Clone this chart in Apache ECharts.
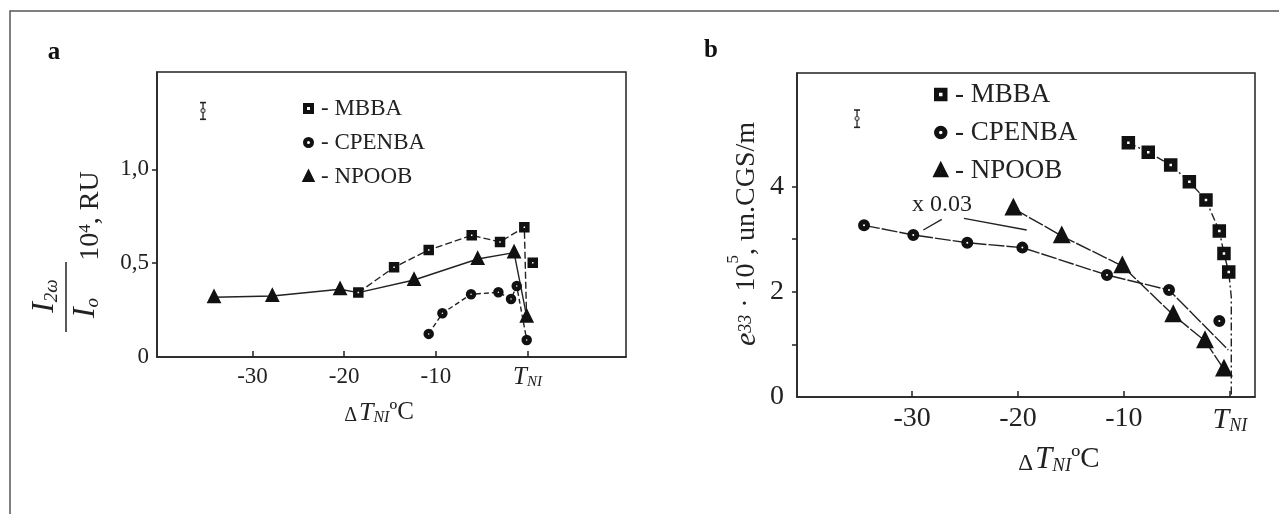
<!DOCTYPE html>
<html>
<head>
<meta charset="utf-8">
<script src="https://cdn.jsdelivr.net/npm/echarts@6/dist/echarts.min.js"></script>
<style>
  html, body { margin: 0; background: #fff; }
  #chart { width: 1279px; height: 514px; }
</style>
</head>
<body>
<div id="chart"></div>
<script>
// ---- panel a : I2w/Io *10^4 (RU) vs dT_NI ----
const aMBBA = [[-18.46, 0.343], [-14.56, 0.478], [-10.78, 0.570], [-6.09, 0.648], [-3.0, 0.613], [-0.35, 0.691], [0.57, 0.502]];
const aMBBADrop = [[-0.12, 0.24]];
const aCPENBA = [[-10.78, 0.123], [-9.29, 0.233], [-6.16, 0.334], [-3.18, 0.345], [-1.8, 0.309], [-1.18, 0.378], [-0.09, 0.091]];
const aNPOOB = [[-34.2, 0.318], [-27.84, 0.325], [-20.45, 0.361], [-12.38, 0.41], [-5.44, 0.522], [-1.47, 0.556], [-0.09, 0.215]];
const aErr = [-35.4, 1.266, 1.312, 1.355];   // x, low, mid, high

// ---- panel b : e33 *10^5 (un.CGS/m) vs dT_NI ----
const bMBBA = [[-9.58, 4.835], [-7.70, 4.652], [-5.58, 4.41], [-3.82, 4.093], [-2.25, 3.745], [-0.99, 3.156], [-0.55, 2.73], [-0.1, 2.376]];
const bMBBATail = [[0.14, 1.9], [0.14, 0]];
const bCPENBA = [[-34.54, 3.264], [-29.89, 3.08], [-24.79, 2.933], [-19.59, 2.84], [-11.6, 2.319], [-5.74, 2.034], [-0.99, 1.445]];
const bCPENBATail = [[-0.14, 0.894]];
const bNPOOB = [[-20.44, 3.587], [-15.87, 3.06], [-10.15, 2.49], [-5.34, 1.559], [-2.34, 1.065], [-0.55, 0.526]];
const bErr = [-35.2, 5.127, 5.295, 5.456];
const bLeader1 = [[-28.94, 3.175], [-27.2, 3.378]];
const bLeader2 = [[-25.1, 3.397], [-19.18, 3.175]];

const xTicks = [-30, -20, -10, 0];
const aYTicks = [0.5, 1.0];
const aYLabels = [0, 0.5, 1.0];
const bYTicks = [1, 2, 3, 4];
const bYLabels = [0, 2, 4];

const FONT = 'Liberation Serif';
const INK = '#222';

var chart = echarts.init(document.getElementById('chart'));

function path(name, g, data, dash) {
  return {
    type: 'line', name: name, xAxisIndex: g, yAxisIndex: g, data: data,
    symbol: 'none', silent: true, z: 2,
    lineStyle: { color: INK, width: 1.4, type: dash }
  };
}
function pts(name, g, data, symbol, size, bw) {
  return {
    type: 'scatter', name: name, xAxisIndex: g, yAxisIndex: g, data: data,
    symbol: symbol, symbolSize: size, z: 3,
    itemStyle: { color: '#fff', borderColor: '#111', borderWidth: bw, opacity: 1 }
  };
}
function errBar(g, e) {
  return [{
    type: 'line', xAxisIndex: g, yAxisIndex: g, data: [[e[0], e[1]], [e[0], e[3]]],
    symbol: 'rect', symbolSize: [6, 1.6], showSymbol: true, z: 3,
    itemStyle: { color: INK }, lineStyle: { color: INK, width: 1.3 }
  }, {
    type: 'scatter', xAxisIndex: g, yAxisIndex: g, data: [[e[0], e[2]]],
    symbol: 'circle', symbolSize: 4, z: 4,
    itemStyle: { color: '#fff', borderColor: INK, borderWidth: 1.2 }
  }];
}

function xAxisOf(g, min, max, fs) {
  return {
    gridIndex: g, type: 'value', min: min, max: max,
    axisLine: { show: true, onZero: false, lineStyle: { color: INK, width: 1.5 } },
    axisTick: { show: true, inside: true, length: 6, customValues: xTicks, lineStyle: { color: INK, width: 1.5 } },
    splitLine: { show: false },
    axisLabel: {
      customValues: xTicks, margin: 8, color: INK, fontFamily: FONT, fontSize: fs,
      formatter: v => v === 0 ? '{t|T}{n|NI}' : String(v),
      rich: {
        t: { fontFamily: FONT, fontStyle: 'italic', color: INK, verticalAlign: 'top', fontSize: fs + 2, lineHeight: fs + 2, padding: [0, 0, 5, 0] },
        n: { fontFamily: FONT, fontStyle: 'italic', color: INK, verticalAlign: 'bottom', fontSize: Math.round(fs * 0.65), lineHeight: Math.round(fs * 0.65) }
      }
    }
  };
}
function yAxisOf(g, max, ticks, labels, fs, margin, fmt) {
  return {
    gridIndex: g, type: 'value', min: 0, max: max,
    axisLine: { show: true, onZero: false, lineStyle: { color: INK, width: 1.5 } },
    axisTick: { show: true, inside: false, length: 5, customValues: ticks, lineStyle: { color: INK, width: 1.5 } },
    splitLine: { show: false },
    axisLabel: { customValues: labels, margin: margin, color: INK, fontFamily: FONT, fontSize: fs, formatter: fmt }
  };
}
function legendOf(left, top, fs, iw, bw, gap, pad) {
  return {
    left: left, top: top, orient: 'vertical', selectedMode: false,
    itemWidth: iw, itemHeight: iw, itemGap: gap,
    data: [{ name: 'MBBA', icon: 'rect' }, { name: 'CPENBA', icon: 'circle' }, { name: 'NPOOB', icon: 'triangle' }],
    formatter: '- {name}',
    itemStyle: { color: '#fff', borderColor: '#111', borderWidth: bw },
    textStyle: { fontFamily: FONT, fontSize: fs, lineHeight: fs, color: INK, padding: [0, 0, 0, pad] }
  };
}

// dT_NI degC axis name
function tnTitle(x, y, fs) {
  const ds = Math.round(fs * 0.75);
  return {
    type: 'text', x: x, y: y, z: 10,
    style: {
      text: '{d|Δ}{t|T}{n|NI}{c|ºC}', align: 'center', verticalAlign: 'middle', fill: INK,
      rich: {
        d: { fontFamily: FONT, fontSize: ds, lineHeight: ds, padding: [fs - ds, 2, 0, 0], verticalAlign: 'top', fill: INK },
        t: { fontFamily: FONT, fontStyle: 'italic', fontSize: fs, lineHeight: fs, padding: [0, 0, 5, 0], verticalAlign: 'top', fill: INK },
        n: { fontFamily: FONT, fontStyle: 'italic', fontSize: Math.round(fs * 0.62), lineHeight: Math.round(fs * 0.62), verticalAlign: 'bottom', fill: INK },
        c: { fontFamily: FONT, fontSize: Math.round(fs * 0.95), lineHeight: fs, verticalAlign: 'top', fill: INK }
      }
    }
  };
}
const subRich = (fs, ss) => ({
  i: { fontFamily: FONT, fontStyle: 'italic', fontSize: fs, lineHeight: fs, padding: [0, 0, 6, 0], verticalAlign: 'top', fill: INK },
  s: { fontFamily: FONT, fontStyle: 'italic', fontSize: ss, lineHeight: ss, verticalAlign: 'bottom', fill: INK }
});

chart.setOption({
  animation: false,
  backgroundColor: '#fff',
  grid: [
    { left: 157, top: 72, width: 469, height: 285, show: true, borderColor: INK, borderWidth: 1.5, backgroundColor: 'transparent' },
    { left: 797, top: 73, width: 458, height: 324, show: true, borderColor: INK, borderWidth: 1.5, backgroundColor: 'transparent' }
  ],
  xAxis: [xAxisOf(0, -40.42, 10.74, 23), xAxisOf(1, -40.87, 2.38, 28)],
  yAxis: [
    yAxisOf(0, 1.518, aYTicks, aYLabels, 23, 8, v => v === 0 ? '0' : v.toFixed(1).replace('.', ',')),
    yAxisOf(1, 6.16, bYTicks, bYLabels, 28, 13, v => String(v))
  ],
  legend: [legendOf(298, 92, 23, 7, 4, 11, 4), legendOf(929, 76, 27, 8.5, 5, 11, 5)],
  series: [
    // panel a
    pts('MBBA', 0, aMBBA, 'rect', 6, 4.5),
    pts('CPENBA', 0, aCPENBA, 'circle', 6, 4.5),
    pts('NPOOB', 0, aNPOOB, 'triangle', 7.5, 4.5),
    path('MBBA', 0, aMBBA.slice(0, 6).concat(aMBBADrop), [7, 3]),
    path('CPENBA', 0, aCPENBA, [5, 3]),
    path('NPOOB', 0, aNPOOB.slice(0, 3).concat([aMBBA[0]], aNPOOB.slice(3)), 'solid'),
    ...errBar(0, aErr),
    // panel b
    pts('MBBA', 1, bMBBA, 'rect', 8, 5.5),
    pts('CPENBA', 1, bCPENBA, 'circle', 7, 5),
    pts('NPOOB', 1, bNPOOB, 'triangle', 9, 5.5),
    path('MBBA', 1, bMBBA.concat(bMBBATail), [8, 3, 2, 3]),
    path('CPENBA', 1, bCPENBA.slice(0, 6).concat(bCPENBATail), [16, 2]),
    path('NPOOB', 1, bNPOOB, [16, 2]),
    path('lead', 1, bLeader1, 'solid'),
    path('lead', 1, bLeader2, 'solid'),
    ...errBar(1, bErr)
  ],
  graphic: [
    { type: 'polyline', shape: { points: [[10, 514], [10, 11], [1279, 11]] }, style: { stroke: '#555', lineWidth: 1.5, fill: null } },
    { type: 'text', x: 54, y: 53, style: { text: 'a', font: 'bold 25px "Liberation Serif"', fill: '#111', align: 'center', verticalAlign: 'middle' } },
    { type: 'text', x: 711, y: 51, style: { text: 'b', font: 'bold 25px "Liberation Serif"', fill: '#111', align: 'center', verticalAlign: 'middle' } },
    tnTitle(379, 413, 26),
    tnTitle(1059, 460, 31),
    { type: 'text', x: 912, y: 205, style: { text: 'x 0.03', font: '24px "Liberation Serif"', fill: INK, align: 'left', verticalAlign: 'middle' } },
    // panel a y title
    { type: 'text', x: 45, y: 296, rotation: Math.PI / 2, style: { text: '{i|I}{s|2ω}', align: 'center', verticalAlign: 'middle', rich: subRich(32, 19) } },
    { type: 'line', shape: { x1: 66, y1: 262, x2: 66, y2: 332 }, style: { stroke: INK, lineWidth: 1.5 } },
    { type: 'text', x: 86, y: 308, rotation: Math.PI / 2, style: { text: '{i|I}{s|o}', align: 'center', verticalAlign: 'middle', rich: subRich(32, 19) } },
    {
      type: 'text', x: 91, y: 216, rotation: Math.PI / 2,
      style: {
        text: '{m|10}{p|4}{m|, RU}', align: 'center', verticalAlign: 'middle',
        rich: {
          m: { fontFamily: FONT, fontSize: 28, lineHeight: 28, padding: [8, 0, 0, 0], verticalAlign: 'bottom', fill: INK },
          p: { fontFamily: FONT, fontSize: 17, lineHeight: 17, verticalAlign: 'top', fill: INK }
        }
      }
    },
    // panel b y title
    {
      type: 'text', x: 740, y: 234, rotation: Math.PI / 2,
      style: {
        text: '{e|e}{s|33}{m| · 10}{p|5}{m|, un.CGS/m}', align: 'center', verticalAlign: 'middle',
        rich: {
          e: { fontFamily: FONT, fontStyle: 'italic', fontSize: 30, lineHeight: 30, padding: [7, 0, 7, 0], verticalAlign: 'top', fill: INK },
          m: { fontFamily: FONT, fontSize: 28, lineHeight: 28, padding: [8, 0, 8, 0], verticalAlign: 'top', fill: INK },
          s: { fontFamily: FONT, fontStyle: 'italic', fontSize: 18, lineHeight: 18, verticalAlign: 'bottom', fill: INK },
          p: { fontFamily: FONT, fontSize: 17, lineHeight: 17, verticalAlign: 'top', fill: INK }
        }
      }
    }
  ]
});
</script>
</body>
</html>
